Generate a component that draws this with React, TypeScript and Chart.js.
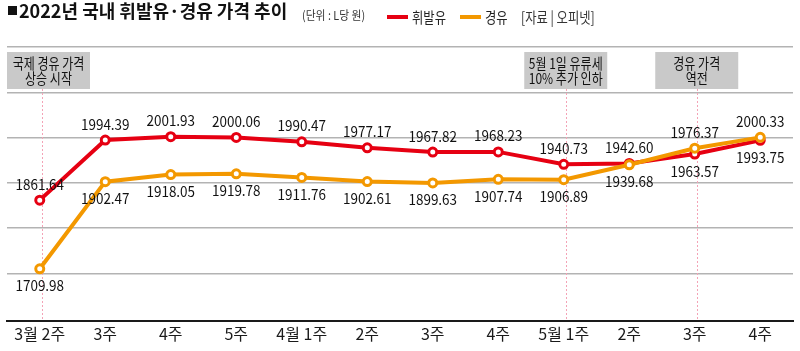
import { useEffect, useRef } from "react";
import { Chart, registerables } from "chart.js";

Chart.register(...registerables);

const categories = ["3월 2주", "3주", "4주", "5주", "4월 1주", "2주", "3주", "4주", "5월 1주", "2주", "3주", "4주"];
const gasoline = [1861.64, 1994.39, 2001.93, 2000.06, 1990.47, 1977.17, 1967.82, 1968.23, 1940.73, 1942.6, 1963.57, 1993.75];
const diesel = [1709.98, 1902.47, 1918.05, 1919.78, 1911.76, 1902.61, 1899.63, 1907.74, 1906.89, 1939.68, 1976.37, 2000.33];
const gridValues = [1700, 1800, 1900, 2000, 2100, 2200];
const seriesNames = ["휘발유", "경유"];
const titleText = "2022년 국내 휘발유·경유 가격 추이";
const unitText = "(단위 : L당 원)";
const sourceText = "[자료 | 오피넷]";
const annotationIndex = [0, 8, 10];
const annotationLines = [
  ["국제 경유 가격", "상승 시작"],
  ["5월 1일 유류세", "10% 추가 인하"],
  ["경유 가격", "역전"],
];

const RED = "#e60012";
const ORANGE = "#f39800";
const FONT = '"Noto Sans CJK KR", "Noto Sans", sans-serif';

function drawText(
  ctx: CanvasRenderingContext2D,
  text: string,
  x: number,
  y: number,
  font: string,
  color: string,
  align: CanvasTextAlign,
  scaleX: number
) {
  ctx.save();
  ctx.font = font;
  ctx.fillStyle = color;
  ctx.textBaseline = "middle";
  ctx.textAlign = align;
  ctx.translate(x, y);
  ctx.scale(scaleX, 1);
  ctx.fillText(text, 0, 0);
  ctx.restore();
}

const decorPlugin = {
  id: "decor",
  beforeDatasetsDraw(chart: any) {
    const ctx: CanvasRenderingContext2D = chart.ctx;
    const area = chart.chartArea;
    const xs = chart.scales.x;
    annotationIndex.forEach((idx, i) => {
      const px = xs.getPixelForValue(idx);
      ctx.save();
      ctx.strokeStyle = "#f4a3b6";
      ctx.lineWidth = 1;
      ctx.setLineDash([2, 2]);
      ctx.beginPath();
      ctx.moveTo(Math.round(px) + 2.5, 89);
      ctx.lineTo(Math.round(px) + 2.5, area.bottom);
      ctx.stroke();
      ctx.restore();
      const w = 83;
      let left = px + 2 - w / 2;
      if (left < 7) left = 7;
      ctx.save();
      ctx.fillStyle = "#c9c9c9";
      ctx.fillRect(left, 52, w, 37);
      ctx.restore();
      const lines = annotationLines[i];
      drawText(ctx, lines[0], left + w / 2, 63, "15px " + FONT, "#111", "center", 0.8);
      drawText(ctx, lines[1], left + w / 2, 78, "15px " + FONT, "#111", "center", 0.8);
    });
  },
  afterDatasetsDraw(chart: any) {
    const ctx: CanvasRenderingContext2D = chart.ctx;
    const redMeta = chart.getDatasetMeta(0);
    const orMeta = chart.getDatasetMeta(1);
    categories.forEach((_, i) => {
      const rp = redMeta.data[i];
      const op = orMeta.data[i];
      const redUp = gasoline[i] >= diesel[i];
      const font = "14.5px " + FONT;
      drawText(ctx, gasoline[i].toFixed(2), rp.x, rp.y + (redUp ? -16 : 17), font, "#111", "center", 0.93);
      drawText(ctx, diesel[i].toFixed(2), op.x, op.y + (redUp ? 17 : -16), font, "#111", "center", 0.93);
    });
  },
  afterDraw(chart: any) {
    const ctx: CanvasRenderingContext2D = chart.ctx;
    ctx.save();
    ctx.fillStyle = "#111";
    ctx.fillRect(8, 6, 9, 9);
    ctx.restore();
    drawText(ctx, titleText, 19, 11, "bold 18px " + FONT, "#111", "left", 1.0);
    drawText(ctx, unitText, 302, 15, "12px " + FONT, "#333", "left", 0.9);
    ctx.save();
    ctx.fillStyle = RED;
    ctx.fillRect(387, 15, 21, 4);
    ctx.fillStyle = ORANGE;
    ctx.fillRect(460, 15, 21, 4);
    ctx.restore();
    drawText(ctx, seriesNames[0], 412, 17, "15px " + FONT, "#222", "left", 0.82);
    drawText(ctx, seriesNames[1], 485, 17, "15px " + FONT, "#222", "left", 0.82);
    drawText(ctx, sourceText, 521, 17, "15px " + FONT, "#333", "left", 0.82);
  },
};

export default function App() {
  const ref = useRef<HTMLCanvasElement | null>(null);
  useEffect(() => {
    if (!ref.current) return;
    const chart = new Chart(ref.current, {
      type: "line",
      data: {
        labels: categories,
        datasets: [
          {
            label: seriesNames[0],
            data: gasoline,
            borderColor: RED,
            backgroundColor: "#ffffff",
            borderWidth: 4,
            pointRadius: 4,
            pointBorderWidth: 3,
            pointBackgroundColor: "#ffffff",
            pointBorderColor: RED,
            tension: 0,
            order: 2,
          },
          {
            label: seriesNames[1],
            data: diesel,
            borderColor: ORANGE,
            backgroundColor: "#ffffff",
            borderWidth: 4,
            pointRadius: 4,
            pointBorderWidth: 3,
            pointBackgroundColor: "#ffffff",
            pointBorderColor: ORANGE,
            tension: 0,
            order: 1,
          },
        ],
      },
      options: {
        responsive: false,
        animation: false,
        layout: { padding: { top: 47, left: 4, right: 4, bottom: 3 } },
        plugins: {
          legend: { display: false },
          title: { display: false },
          tooltip: { enabled: false },
        },
        scales: {
          x: {
            offset: true,
            grid: { display: false, drawTicks: false },
            border: { display: true, color: "#1a1a1a", width: 2 },
            ticks: {
              color: "#1a1a1a",
              font: { family: FONT, size: 16 },
              padding: 4,
              autoSkip: false,
              maxRotation: 0,
            },
          },
          y: {
            min: 1595,
            max: 2200,
            afterBuildTicks: (scale: any) => {
              scale.ticks = gridValues.map((v) => ({ value: v }));
            },
            ticks: { display: false },
            border: { display: false },
            grid: { color: "#b3b3b3", lineWidth: 1.5, drawTicks: false },
          },
        },
      },
      plugins: [decorPlugin],
    });
    return () => chart.destroy();
  }, []);
  return (
    <div style={{ position: "fixed", left: 0, top: 0, width: 800, height: 351, background: "#fff" }}>
      <canvas ref={ref} width={800} height={351} style={{ display: "block" }} />
    </div>
  );
}
